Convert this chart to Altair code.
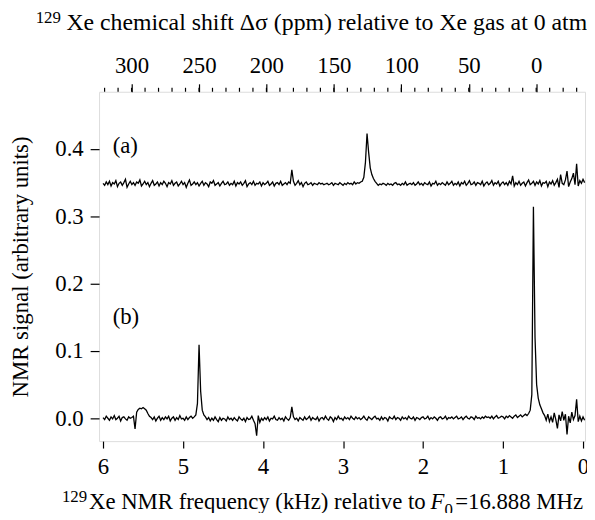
import altair as alt
import pandas as pd

FONT = "Liberation Serif"

# ---- data (signal in units of 1e-3) ----
FREQ_START_KHZ = 6.0
FREQ_STEP_KHZ = 0.02

trace_b = [
    1, -2, 3, 0, -3, 2, -1, 4, -2, 0, 3, -4, 1, 2, -1, -3, 2, 0, 1, 3,
    -16, 9, 13, 15, 14, 16, 14, 12, 7, 3, 1, -2, 2, -4, 0, 3, -3, 1, -2, 2,
    -1, 3, -4, 0, 2, -3, 1, -2, 4, -1, 0, -3, 2, -2, 1, 3, 0, 2, 5, 22,
    109, 40, 12, 5, 2, -2, 1, -4, 0, -3, 2, -2, -5, 1, -3, 0, -1, -4, 2, -2,
    0, -3, 1, -2, -4, 2, -1, -3, 0, -5, 1, -2, -1, 3, -3, -8, -26, 4, -6, 0,
    -3, 1, -2, 2, -4, 0, -1, 3, -2, -3, 1, -2, 0, -4, 2, -1, -3, 1, 17, 2,
    -2, 0, -4, 1, -1, -3, 2, -2, 0, 3, -3, 1, -1, -2, 2, -4, 0, 1, -2, 3,
    -1, -3, 2, 0, -5, 1, -2, 3, -1, 0, -3, 2, -1, 1, -2, 3, 0, -2, 2, -1,
    1, -2, 0, 3, -1, -3, 2, 0, -2, 1, 3, -1, 0, -3, 2, -2, 1, 0, -4, 2,
    0, -1, 3, -2, 1, 0, -3, 2, -1, 1, -2, 3, 0, -1, 2, -3, 1, 0, -2, 1,
    2, -1, 0, 3, -2, 1, -1, 2, 0, -3, 1, 2, -1, 0, 3, -2, 1, 0, 2, -1,
    1, 3, -1, 0, 2, -2, 1, 3, 0, -1, 2, 1, -2, 3, 0, 1, -1, 2, 0, 3,
    1, 2, 0, 3, -1, 2, 4, 0, 1, 3, 2, -1, 3, 1, 4, 2, 0, 3, 5, 1,
    3, 5, 2, 4, 6, 4, 7, 12, 35, 314, 120, 50, 30, 20, 14, 8, 4, -3, 6, -5,
    2, -6, 8, -2, -15, 5, -4, 10, -3, 6, -24, 3, -7, 9, -2, 4, 28, -5, 3, -4,
    2, -3,
]

trace_a = [
    349, 346, 351, 347, 352, 345, 350, 348, 353, 344, 349, 351, 346, 350, 355, 343, 348, 352, 347, 350,
    346, 351, 349, 354, 345, 348, 352, 347, 350, 344, 349, 353, 346, 348, 351, 345, 350, 347, 352, 349,
    344, 350, 348, 353, 346, 349, 351, 345, 348, 352, 347, 350, 343, 349, 354, 346, 348, 351, 347, 350,
    345, 349, 352, 346, 350, 348, 344, 351, 349, 353, 346, 348, 350, 345, 349, 352, 347, 348, 351, 346,
    349, 347, 352, 345, 350, 348, 351, 346, 349, 353, 344, 348, 350, 347, 352, 346, 349, 348, 351, 345,
    350, 347, 349, 352, 346, 348, 351, 345, 349, 350, 347, 352, 346, 348, 350, 347, 351, 349, 369, 352,
    346, 349, 353, 347, 350, 344, 349, 351, 347, 348, 350, 346, 349, 348, 347, 350, 348, 349, 347, 348,
    349, 347, 348, 350, 346, 349, 348, 347, 350, 348, 346, 349, 347, 350, 348, 349, 347, 351, 348, 350,
    349, 351, 352, 358, 380, 423, 395, 372, 362, 356, 352, 349, 346, 348, 347, 349, 348, 346, 349, 347,
    348, 346, 349, 350, 347, 348, 346, 349, 347, 351, 346, 348, 349, 347, 350, 346, 348, 351, 347, 349,
    346, 350, 348, 347, 351, 345, 349, 348, 352, 346, 349, 347, 350, 348, 346, 351, 347, 349, 352, 346,
    349, 347, 351, 345, 350, 348, 352, 346, 349, 353, 347, 348, 351, 346, 350, 349, 347, 352, 345, 349,
    351, 347, 349, 353, 346, 350, 348, 352, 345, 349, 351, 347, 350, 346, 352, 348, 360, 345, 350, 347,
    352, 346, 349, 351, 345, 350, 354, 347, 349, 352, 346, 351, 348, 353, 345, 350, 349, 352, 344, 351,
    348, 353, 346, 350, 355, 343, 362, 349, 347, 354, 367, 344, 351, 356, 364, 347, 378, 345, 353, 349,
    355, 350,
]

freq_ticks = [0, 1, 2, 3, 4, 5, 6]
signal_ticks = [0.0, 0.1, 0.2, 0.3, 0.4]
ppm_major = [0, 50, 100, 150, 200, 250, 300]
ppm_minor = [-30, -20, -10, 0, 10, 20, 30, 40, 50, 60, 70, 80, 90, 100, 110, 120, 130, 140,
             150, 160, 170, 180, 190, 200, 210, 220, 230, 240, 250, 260, 270, 280, 290, 300,
             310, 320]

panel_labels = ["(a)", "(b)"]
panel_label_freq = [5.88, 5.88]
panel_label_signal = [0.404, 0.151]

freq = [round(FREQ_START_KHZ - FREQ_STEP_KHZ * i, 2) for i in range(len(trace_a))]
df = pd.concat([
    pd.DataFrame({"freq": freq, "signal": [v / 1000 for v in trace_a], "trace": "a"}),
    pd.DataFrame({"freq": freq, "signal": [v / 1000 for v in trace_b], "trace": "b"}),
])

FREQ_DOMAIN = [-0.025, 6.05]
PPM_DOMAIN = [-36.2, 324.1]
SIG_DOMAIN = [-0.034, 0.485]

x_freq = alt.X(
    "freq:Q",
    scale=alt.Scale(domain=FREQ_DOMAIN, reverse=True, nice=False, zero=False),
    axis=alt.Axis(values=freq_ticks, format="d", title=None, orient="bottom",
                  tickSize=7, labelPadding=8, labelFontSize=23, labelFont=FONT,
                  labelColor="black", tickColor="black", tickWidth=1.2,
                  domain=False, grid=False, labelFlush=False),
)
y_sig = alt.Y(
    "signal:Q",
    scale=alt.Scale(domain=SIG_DOMAIN, nice=False, zero=False),
    axis=alt.Axis(values=signal_ticks, format=".1f", title="NMR signal (arbitrary units)",
                  titleFont=FONT, titleFontSize=23, titleFontWeight="normal",
                  titleColor="black", titlePadding=23,
                  tickSize=9, labelPadding=7, labelFontSize=23, labelFont=FONT,
                  labelColor="black", tickColor="black", tickWidth=1.2,
                  domain=False, grid=False, labelFlush=False),
)

traces = alt.Chart(df).mark_line(color="black", strokeWidth=1.3).encode(
    x=x_freq, y=y_sig, detail="trace:N"
)

labels = alt.Chart(pd.DataFrame({"label": panel_labels, "freq": panel_label_freq,
                                 "signal": panel_label_signal})).mark_text(
    align="left", baseline="middle", font=FONT, fontSize=23, color="black"
).encode(x="freq:Q", y="signal:Q", text="label:N")


def txt(s, x, y, size=23, style="normal", align="left"):
    return alt.Chart(pd.DataFrame({"t": [s]})).mark_text(
        align=align, baseline="alphabetic", font=FONT, fontSize=size,
        fontStyle=style, color="black"
    ).encode(x=alt.value(x), y=alt.value(y), text="t:N")


top_title = [
    txt("129", -64, -69, 17),
    txt("Xe chemical shift \u0394\u03c3 (ppm) relative to Xe gas at 0 atm", -33, -62, 24),
]
bottom_title = [
    txt("129", -12, 415, 17, align="right"),
    txt("Xe NMR frequency (kHz) relative to", 330, 422, 23, align="right"),
    txt("F", 335, 422, 23, "italic"),
    txt("0", 349, 428, 17),
    txt("=16.888 MHz", 489, 422, 23, align="right"),
]

main = alt.layer(traces, labels, *top_title, *bottom_title)

x_ppm_scale = alt.Scale(domain=PPM_DOMAIN, reverse=True, nice=False, zero=False)
ppm_axis = alt.Chart(pd.DataFrame({"ppm": ppm_major})).mark_rule(opacity=0).encode(
    x=alt.X("ppm:Q", scale=x_ppm_scale,
            axis=alt.Axis(orient="top", values=ppm_major, format="d", title=None,
                          tickSize=8, labelPadding=6, labelFontSize=23, labelFont=FONT,
                          labelColor="black", tickColor="black", tickWidth=1.2,
                          domain=False, grid=False, labelFlush=False)),
    y=alt.value(0), y2=alt.value(-1),
)
ppm_minor_ticks = alt.Chart(pd.DataFrame({"ppm": ppm_minor})).mark_rule(
    color="black", strokeWidth=1.2
).encode(
    x=alt.X("ppm:Q", scale=x_ppm_scale),
    y=alt.value(0), y2=alt.value(-4),
)
top = alt.layer(ppm_axis, ppm_minor_ticks)

chart = alt.layer(main, top).resolve_scale(x="independent").properties(
    width=491, height=353,
    padding={"left": 92, "top": 82, "right": 2, "bottom": 70},
    autosize=alt.AutoSizeParams(type="none"),
).configure_view(stroke="black", strokeWidth=1.5).configure(background="white")

chart.save("out.html", embed_options={"renderer": "svg", "actions": False})
